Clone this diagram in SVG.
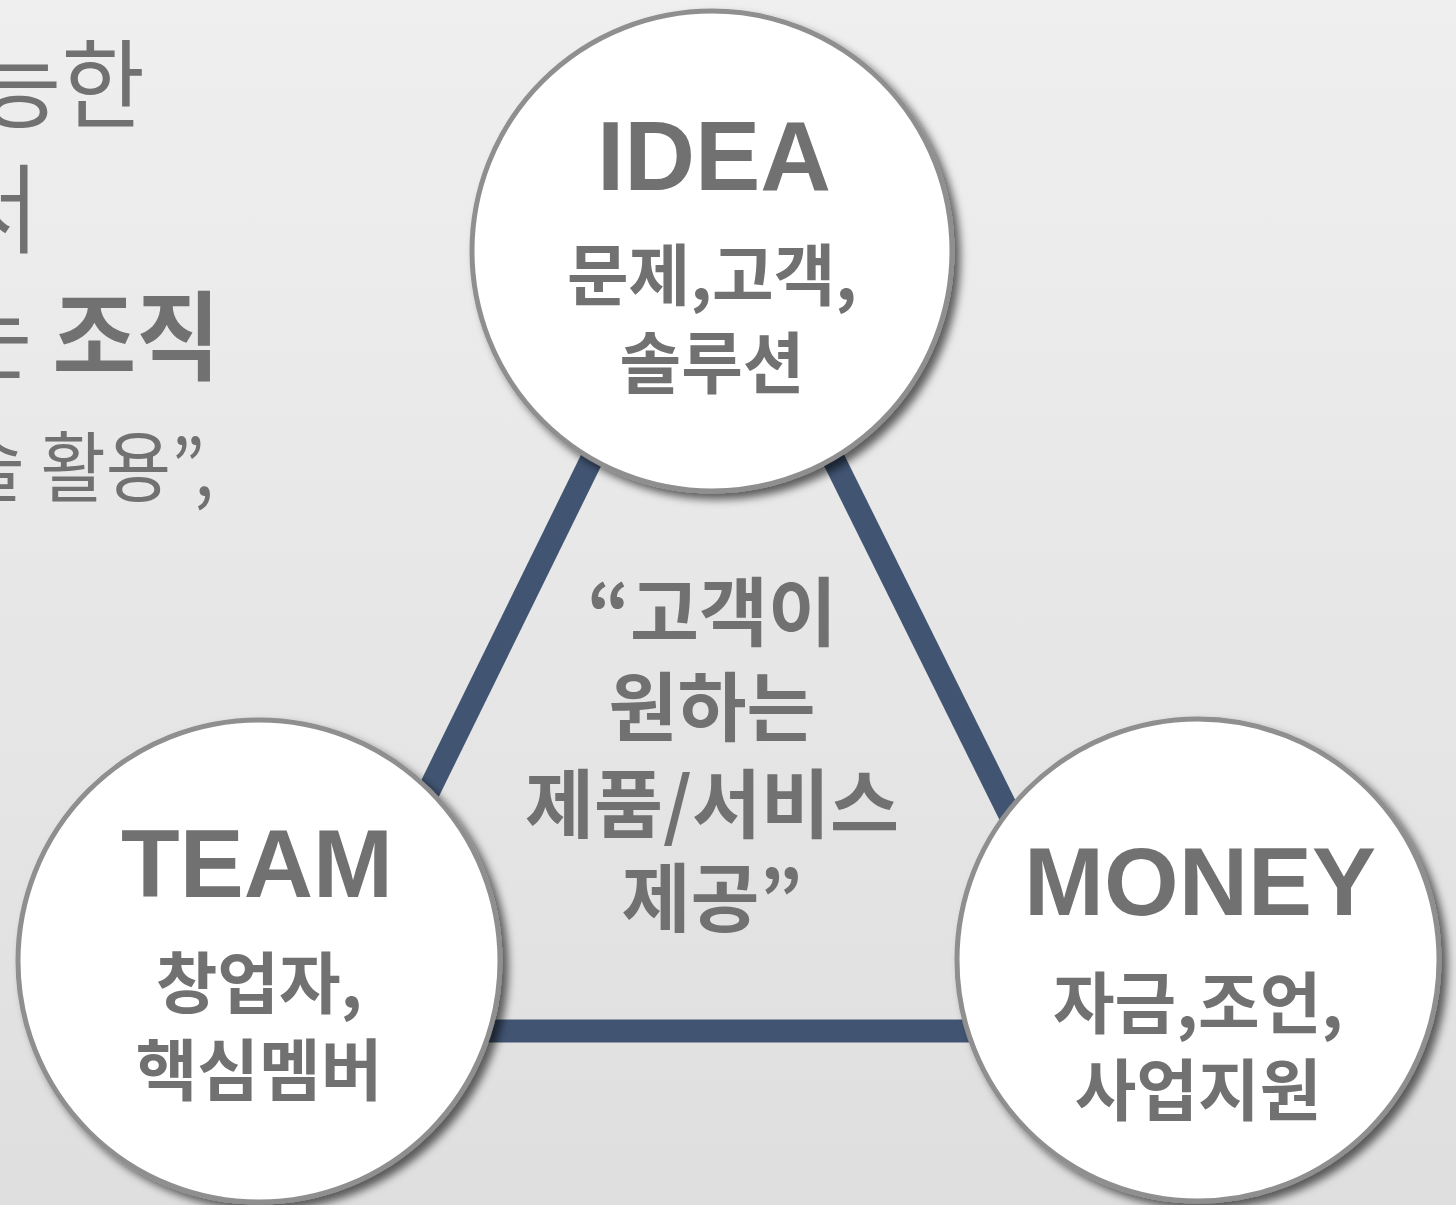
<svg xmlns="http://www.w3.org/2000/svg" width="1456" height="1205" viewBox="0 0 1456 1205">
<defs>
<linearGradient id="bg" x1="0" y1="0" x2="0" y2="1">
<stop offset="0" stop-color="#efefef"/>
<stop offset="1" stop-color="#dfdfdf"/>
</linearGradient>
<filter id="sh" x="-20%" y="-20%" width="140%" height="140%">
<feDropShadow dx="6" dy="6" stdDeviation="4" flood-color="#000" flood-opacity="0.6"/>
</filter>
<style>
.kr{font-family:"Noto Sans CJK KR","Noto Sans",sans-serif;fill:#717171}
.b{font-weight:bold}
.en{font-family:"Liberation Sans",Arial,sans-serif;font-weight:bold;fill:#717171}
.node{fill:#ffffff;stroke:#8f8f8f;stroke-width:5}
.edge{stroke:#415573;stroke-width:23;fill:none}
</style>
</defs>
<rect width="1456" height="1205" fill="url(#bg)"/>
<g id="side-text" class="kr">
<text transform="translate(145,120) scale(1,1.06)" text-anchor="end" font-size="91">능한</text>
<text transform="translate(39,245) scale(1,1.06)" text-anchor="end" font-size="91">서</text>
<text transform="translate(220,372) scale(1,1.06)" text-anchor="end" font-size="91">는 <tspan class="b">조직</tspan></text>
<text transform="translate(214,496) scale(1,1.08)" text-anchor="end" font-size="71">술 활용”,</text>
</g>
<g id="connectors">
<line class="edge" x1="712" y1="214" x2="311" y2="1031"/>
<line class="edge" x1="712" y1="214" x2="1117" y2="1031"/>
<line class="edge" x1="311" y1="1031" x2="1117" y2="1031"/>
</g>
<g id="center-text" class="kr b" text-anchor="middle" font-size="75">
<text x="712" y="640">“고객이</text>
<text x="712" y="735">원하는</text>
<text x="712" y="832">제품/서비스</text>
<text x="712" y="926">제공”</text>
</g>
<g id="node-idea">
<circle class="node" cx="712" cy="251" r="240" filter="url(#sh)"/>
<text class="en" x="714" y="190" text-anchor="middle" font-size="98">IDEA</text>
<text class="kr b" x="712" y="300" text-anchor="middle" font-size="67">문제,고객,</text>
<text class="kr b" x="712" y="388" text-anchor="middle" font-size="67">솔루션</text>
</g>
<g id="node-team">
<circle class="node" cx="259" cy="961" r="241" filter="url(#sh)"/>
<text class="en" x="257" y="897" text-anchor="middle" font-size="96">TEAM</text>
<text class="kr b" x="259" y="1008" text-anchor="middle" font-size="67">창업자,</text>
<text class="kr b" x="259" y="1095" text-anchor="middle" font-size="67">핵심멤버</text>
</g>
<g id="node-money">
<circle class="node" cx="1198" cy="960" r="241" filter="url(#sh)"/>
<text class="en" x="1200" y="915" text-anchor="middle" font-size="96">MONEY</text>
<text class="kr b" x="1198" y="1028" text-anchor="middle" font-size="67">자금,조언,</text>
<text class="kr b" x="1198" y="1115" text-anchor="middle" font-size="67">사업지원</text>
</g>
</svg>
